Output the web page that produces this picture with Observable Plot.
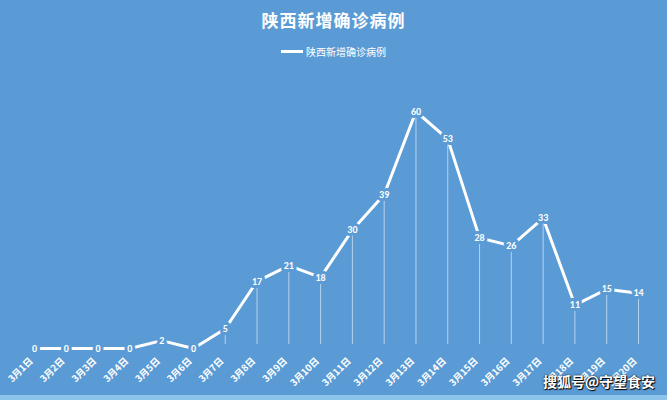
<!DOCTYPE html>
<html><head><meta charset="utf-8">
<script src="https://cdn.jsdelivr.net/npm/d3@7"></script>
<script src="https://cdn.jsdelivr.net/npm/@observablehq/plot@0.6"></script>
<style>
html,body{margin:0;padding:0;background:#5b9bd5;}
#wrap{position:relative;width:667px;height:400px;background:#5b9bd5;overflow:hidden;font-family:"Noto Sans CJK SC",sans-serif;color:#fff;}
#title{height:40px;line-height:40px;text-align:center;font-size:17px;font-weight:bold;letter-spacing:1px;}
#legend{height:22px;display:flex;justify-content:center;align-items:center;font-size:10px;gap:3px;}
#legend span.sw{display:inline-block;width:22px;height:3px;background:#fff;}
#wm{position:absolute;right:12px;bottom:9px;font-size:14px;font-weight:bold;color:#fff;text-shadow:0 0 2px #000,1px 1px 1px #000;}
#strip{position:absolute;left:0;right:0;bottom:0;height:5px;background:#8cc4ec;}
svg{display:block;}
</style></head>
<body>
<div id="wrap">
  <div id="title">陕西新增确诊病例</div>
  <div id="legend"><span class="sw"></span><span>陕西新增确诊病例</span></div>
  <div id="chart"></div>
  <div id="wm">搜狐号@守望食安</div>
  <div id="strip"></div>
</div>
<script>
const dates = ["3月1日","3月2日","3月3日","3月4日","3月5日","3月6日","3月7日","3月8日","3月9日","3月10日","3月11日","3月12日","3月13日","3月14日","3月15日","3月16日","3月17日","3月18日","3月19日","3月20日"];
const cases = [0,0,0,0,2,0,5,17,21,18,30,39,60,53,28,26,33,11,15,14];
const seriesName = "陕西新增确诊病例";
const data = dates.map((d,i)=>({date:d, value:cases[i]}));
const bg = "#5b9bd5";
const chart = Plot.plot({
  width: 667,
  height: 338,
  marginLeft: 34,
  marginRight: 29,
  marginTop: 49,
  marginBottom: 52,
  style: {background: bg, color: "#fff", fontFamily: "'Noto Sans CJK SC', sans-serif", overflow: "visible"},
  x: {type: "point", domain: dates, padding: 0, round: false, axis: null},
  y: {domain: [0, 60], axis: null},
  marks: [
    Plot.ruleX(data.filter(d=>d.value>0), {x:"date", y1:1, y2:"value", stroke:"#fff", strokeOpacity:0.55, strokeWidth:1}),
    Plot.line(data, {x:"date", y:"value", stroke:"#fff", strokeWidth:3}),
    Plot.text(data, {x:"date", y:"value", text:d=>String(d.value), fill:"#fff", stroke:bg, strokeWidth:6, fontSize:10, fontWeight:"bold", fontFamily:"Carlito, Calibri, 'Liberation Sans', sans-serif"}),
    Plot.text(dates, {x:d=>d, frameAnchor:"bottom", text:d=>d, rotate:-45, textAnchor:"end", dx:-1, dy:13, fill:"#fff", fontSize:9.5, fontWeight:"bold", fontFamily:"'Noto Sans CJK SC', sans-serif"})
  ]
});
document.getElementById("chart").appendChild(chart);
</script>
</body></html>
